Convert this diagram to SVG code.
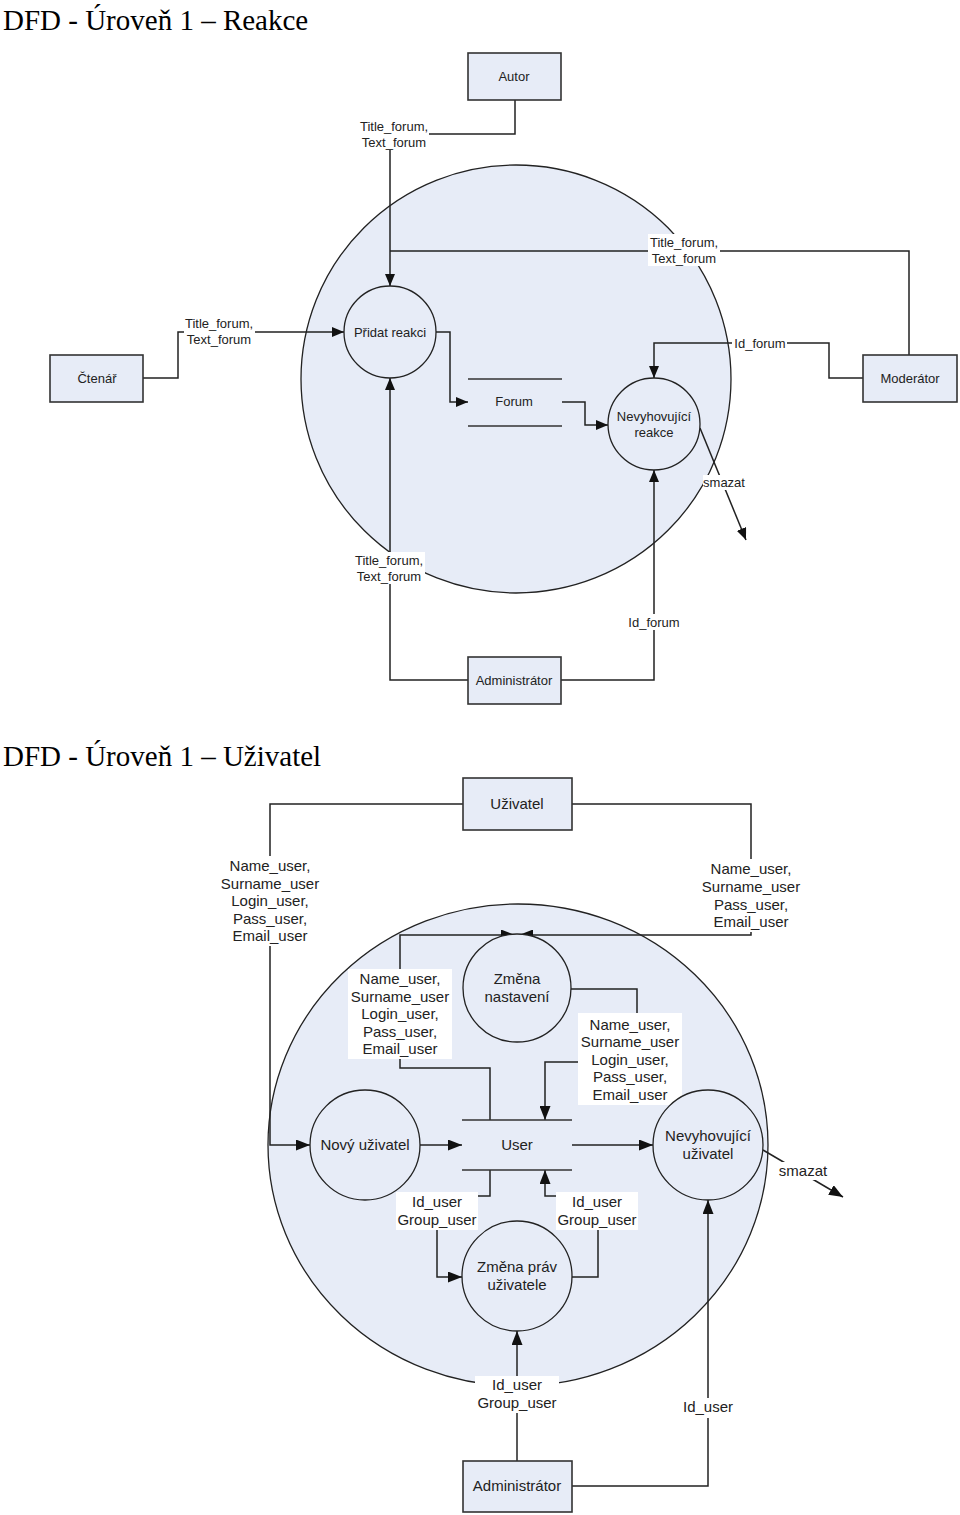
<svg xmlns="http://www.w3.org/2000/svg" width="960" height="1515" viewBox="0 0 960 1515">
<style>
.title{font-family:"Liberation Serif","Times New Roman",serif;font-size:29px;fill:#000}
.t13{font-family:"Liberation Sans",Arial,sans-serif;font-size:13px;fill:#222;text-anchor:middle}
.t14{font-family:"Liberation Sans",Arial,sans-serif;font-size:15px;fill:#222;text-anchor:middle}
.sys{fill:#e7ecf7;stroke:#222;stroke-width:1.3}
.ent{fill:#e7ecf7;stroke:#333;stroke-width:1.6}
.proc{fill:#e7ecf7;stroke:#222;stroke-width:1.3}
.store{stroke:#333;stroke-width:1.6}
.con{fill:none;stroke:#222;stroke-width:1.5}
.arr{marker-end:url(#ah)}
.arr2{marker-end:url(#ah2)}
.bg{fill:#fff}
</style>
<defs>
<marker id="ah" viewBox="0 0 12 10" refX="12" refY="5" markerWidth="12" markerHeight="10" orient="auto" markerUnits="userSpaceOnUse">
<path d="M0,0 L12,5 L0,10 z" fill="#111"/>
</marker>
<marker id="ah2" viewBox="0 0 14 11" refX="14" refY="5.5" markerWidth="14" markerHeight="11" orient="auto" markerUnits="userSpaceOnUse">
<path d="M0,0 L14,5.5 L0,11 z" fill="#111"/>
</marker>
</defs>
<rect width="960" height="1515" fill="#fff"/>

<text class="title" x="3" y="30">DFD - Úroveň 1 – Reakce</text>
<text class="title" x="3" y="766">DFD - Úroveň 1 – Uživatel</text>

<!-- system boundaries -->
<ellipse id="system-reakce" class="sys" cx="516" cy="379" rx="215" ry="214"/>
<ellipse id="system-uzivatel" class="sys" cx="518" cy="1145" rx="250" ry="241"/>

<!-- connectors -->
<g id="connectors">
<path class="con arr" d="M515,100 V134 H390 V286"/>
<path class="con" d="M909,355 V251 H390"/>
<path class="con arr" d="M863,378 H829 V343 H654 V378"/>
<path class="con arr" d="M143,378 H178 V332 H344"/>
<path class="con arr" d="M436,332 H450 V402 H468"/>
<path class="con arr" d="M562,402 H585 V425 H608"/>
<path class="con arr" d="M700,428 L746,540"/>
<path class="con arr" d="M468,680 H390 V378"/>
<path class="con arr" d="M561,680 H654 V470"/>

<path class="con arr2" d="M463,804 H270 V1145 H310"/>
<path class="con arr2" d="M572,804 H751 V935 H519"/>
<path class="con arr2" d="M490,1120 V1068 H400 V935 H515"/>
<path class="con arr2" d="M571,989 H637 V1062 H545 V1120"/>
<path class="con arr2" d="M420,1145 H462"/>
<path class="con arr2" d="M572,1145 H653"/>
<path class="con arr2" d="M763,1150 L843,1197"/>
<path class="con arr2" d="M490,1170 V1196 H437 V1277 H462"/>
<path class="con arr2" d="M572,1277 H598 V1196 H545 V1170"/>
<path class="con arr2" d="M517,1461 V1331"/>
<path class="con arr2" d="M572,1486 H708 V1200"/>

<!-- labels -->
<rect class="bg" x="359" y="118" width="70" height="32"/>
<text class="t13" x="394" y="130.5">Title_forum,</text>
<text class="t13" x="394" y="146.5">Text_forum</text>

<rect class="bg" x="648" y="234" width="72" height="32"/>
<text class="t13" x="684" y="246.5">Title_forum,</text>
<text class="t13" x="684" y="262.5">Text_forum</text>

<rect class="bg" x="732" y="335" width="55" height="16"/>
<text class="t13" x="760" y="347.5">Id_forum</text>

<rect class="bg" x="184" y="315" width="71" height="32"/>
<text class="t13" x="219" y="327.5">Title_forum,</text>
<text class="t13" x="219" y="343.5">Text_forum</text>

<rect class="bg" x="703" y="475" width="43" height="15"/>
<text class="t13" x="724" y="486.5">smazat</text>

<rect class="bg" x="353" y="552" width="72" height="32"/>
<text class="t13" x="389" y="564.5">Title_forum,</text>
<text class="t13" x="389" y="580.5">Text_forum</text>

<rect class="bg" x="626" y="614" width="56" height="16"/>
<text class="t13" x="654" y="626.5">Id_forum</text>

<rect class="bg" x="216" y="856" width="108" height="90"/>
<text class="t14" x="270" y="871">Name_user,</text>
<text class="t14" x="270" y="888.5">Surname_user</text>
<text class="t14" x="270" y="906">Login_user,</text>
<text class="t14" x="270" y="923.5">Pass_user,</text>
<text class="t14" x="270" y="941">Email_user</text>

<rect class="bg" x="697" y="859" width="108" height="73"/>
<text class="t14" x="751" y="874">Name_user,</text>
<text class="t14" x="751" y="892">Surname_user</text>
<text class="t14" x="751" y="910">Pass_user,</text>
<text class="t14" x="751" y="927">Email_user</text>

<rect class="bg" x="348" y="969" width="104" height="90"/>
<text class="t14" x="400" y="984">Name_user,</text>
<text class="t14" x="400" y="1001.5">Surname_user</text>
<text class="t14" x="400" y="1019">Login_user,</text>
<text class="t14" x="400" y="1036.5">Pass_user,</text>
<text class="t14" x="400" y="1054">Email_user</text>

<rect class="bg" x="578" y="1013" width="104" height="92"/>
<text class="t14" x="630" y="1029.5">Name_user,</text>
<text class="t14" x="630" y="1047">Surname_user</text>
<text class="t14" x="630" y="1064.5">Login_user,</text>
<text class="t14" x="630" y="1082">Pass_user,</text>
<text class="t14" x="630" y="1099.5">Email_user</text>

<rect class="bg" x="778" y="1162" width="51" height="18"/>
<text class="t14" x="803" y="1176">smazat</text>

<rect class="bg" x="396" y="1192" width="82" height="38"/>
<text class="t14" x="437" y="1207">Id_user</text>
<text class="t14" x="437" y="1225">Group_user</text>

<rect class="bg" x="556" y="1192" width="82" height="38"/>
<text class="t14" x="597" y="1207">Id_user</text>
<text class="t14" x="597" y="1225">Group_user</text>

<rect class="bg" x="475" y="1376" width="84" height="37"/>
<text class="t14" x="517" y="1390">Id_user</text>
<text class="t14" x="517" y="1408">Group_user</text>

<rect class="bg" x="679" y="1398" width="58" height="20"/>
<text class="t14" x="708" y="1412">Id_user</text>
</g>

<!-- nodes: Reakce -->
<g id="autor">
<rect class="ent" x="468" y="53" width="93" height="47"/>
<text class="t13" x="514" y="80.5">Autor</text>
</g>
<g id="ctenar">
<rect class="ent" x="50" y="355" width="93" height="47"/>
<text class="t13" x="97" y="382.5">Čtenář</text>
</g>
<g id="moderator">
<rect class="ent" x="863" y="355" width="94" height="47"/>
<text class="t13" x="910" y="382.5">Moderátor</text>
</g>
<g id="administrator-reakce">
<rect class="ent" x="468" y="657" width="93" height="47"/>
<text class="t13" x="514" y="684.5">Administrátor</text>
</g>
<g id="pridat-reakci">
<circle class="proc" cx="390" cy="332" r="46"/>
<text class="t13" x="390" y="336.5">Přidat reakci</text>
</g>
<g id="forum">
<line class="store" x1="468" y1="379" x2="562" y2="379"/>
<line class="store" x1="468" y1="426" x2="562" y2="426"/>
<text class="t13" x="514" y="405.5">Forum</text>
</g>
<g id="nevyhovujici-reakce">
<circle class="proc" cx="654" cy="424" r="46"/>
<text class="t13" x="654" y="420.5">Nevyhovující</text>
<text class="t13" x="654" y="436.5">reakce</text>
</g>

<!-- nodes: Uživatel -->
<g id="uzivatel">
<rect class="ent" x="463" y="778" width="109" height="52"/>
<text class="t14" x="517" y="809">Uživatel</text>
</g>
<g id="administrator-uzivatel">
<rect class="ent" x="463" y="1461" width="109" height="51"/>
<text class="t14" x="517" y="1491">Administrátor</text>
</g>
<g id="zmena-nastaveni">
<circle class="proc" cx="517" cy="988" r="54"/>
<text class="t14" x="517" y="984">Změna</text>
<text class="t14" x="517" y="1002">nastavení</text>
</g>
<g id="novy-uzivatel">
<circle class="proc" cx="365" cy="1145" r="55"/>
<text class="t14" x="365" y="1150">Nový uživatel</text>
</g>
<g id="user">
<line class="store" x1="462" y1="1120" x2="572" y2="1120"/>
<line class="store" x1="462" y1="1170" x2="572" y2="1170"/>
<text class="t14" x="517" y="1150">User</text>
</g>
<g id="nevyhovujici-uzivatel">
<circle class="proc" cx="708" cy="1145" r="55"/>
<text class="t14" x="708" y="1141">Nevyhovující</text>
<text class="t14" x="708" y="1159">uživatel</text>
</g>
<g id="zmena-prav">
<circle class="proc" cx="517" cy="1276" r="55"/>
<text class="t14" x="517" y="1272">Změna práv</text>
<text class="t14" x="517" y="1290">uživatele</text>
</g>
</svg>
